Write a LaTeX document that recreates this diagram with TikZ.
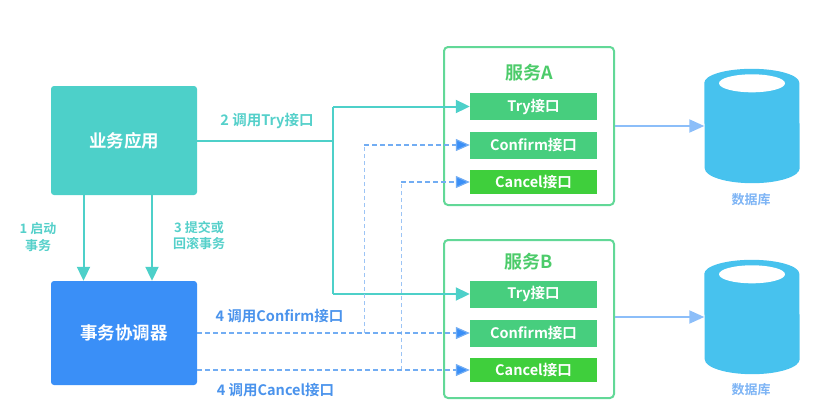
\documentclass[tikz,border=0pt]{standalone}
\usepackage{fontspec}
\setmainfont{Noto Sans CJK SC Bold}
\usetikzlibrary{arrows.meta,calc}
\definecolor{teal1}{HTML}{4DD0C9}
\definecolor{blue1}{HTML}{3A8FF7}
\definecolor{frame1}{HTML}{62D897}
\definecolor{green1}{HTML}{47CE7E}
\definecolor{green2}{HTML}{3FCF3C}
\definecolor{title1}{HTML}{4CCB6A}
\definecolor{db1}{HTML}{47C2EE}
\definecolor{flow1}{HTML}{8CBEF9}
\definecolor{dash1}{HTML}{72ADF3}
\definecolor{dash2}{HTML}{9CC4F5}
\definecolor{lab1}{HTML}{55D0CA}
\definecolor{lab2}{HTML}{4A93EC}
\definecolor{lab3}{HTML}{7DB4F5}
\tikzset{
  px/.style={x=1pt,y=-1pt},
  mainbox/.style={rounded corners=3pt,text=white,font=\fontsize{17.5}{20}\selectfont,minimum width=146pt,inner sep=0pt},
  frame/.style={draw=frame1,line width=2pt,rounded corners=4pt,minimum width=170pt,inner sep=0pt},
  api/.style={text=white,font=\fontsize{14.5}{16}\selectfont,minimum width=127pt,inner sep=0pt},
  ghost/.style={minimum width=95pt,inner sep=0pt},
  tealarrow/.style={draw=teal1,line width=2pt,-{Triangle[length=14pt,width=13pt,fill=teal1]}},
  tealline/.style={draw=teal1,line width=2pt},
  dasharrow/.style={draw=dash1,line width=1.2pt,dash pattern=on 5pt off 3pt,-{Triangle[length=14pt,width=12pt,fill=blue1]}},
  dashv/.style={draw=dash2,line width=1pt,dash pattern=on 4pt off 3pt},
  flow/.style={draw=flow1,line width=2pt,-{Triangle[length=15pt,width=13pt,fill=flow1]}},
  lab/.style={inner sep=0pt,align=center,font=\fontsize{14.5}{17}\selectfont},
  smalllab/.style={inner sep=0pt,align=center,font=\fontsize{13}{16.5}\selectfont},
  dblab/.style={inner sep=0pt,text=lab3,font=\fontsize{13}{15}\selectfont},
  svctitle/.style={inner sep=0pt,text=title1,font=\fontsize{18}{20}\selectfont},
}
\newcommand{\dbshape}[1]{%
  \fill[db1] ($(#1.north west)+(0,14)$) arc[start angle=180,end angle=0,x radius=47.5pt,y radius=14pt]
    -- ($(#1.south east)+(0,-15)$) arc[start angle=0,end angle=-180,x radius=47.5pt,y radius=15pt] -- cycle;
  \fill[white] ($(#1.north)+(0,14.5)$) ellipse[x radius=33pt,y radius=9pt];
}
\begin{document}
\begin{tikzpicture}[px]
\useasboundingbox (0,0) rectangle (830,418);
% boxes
\node[mainbox,fill=teal1,minimum height=109pt] (app) at (124,140.5) {业务应用};
\node[mainbox,fill=blue1,minimum height=104pt] (tc) at (124,333) {事务协调器};
\node[frame,minimum height=158pt] (svcA) at (529,126) {};
\node[frame,minimum height=158pt] (svcB) at (529,319) {};
\node[svctitle] (titleA) at (529,73) {服务A};
\node[svctitle] (titleB) at (529,262) {服务B};
\node[api,fill=green1,minimum height=27pt] (tryA) at (533.5,106.5) {Try接口};
\node[api,fill=green1,minimum height=27pt] (cfmA) at (533.5,145) {Confirm接口};
\node[api,fill=green2,minimum height=24pt] (canA) at (533.5,182) {Cancel接口};
\node[api,fill=green1,minimum height=27pt] (tryB) at (533.5,294) {Try接口};
\node[api,fill=green1,minimum height=27pt] (cfmB) at (533.5,333) {Confirm接口};
\node[api,fill=green2,minimum height=24pt] (canB) at (533.5,370) {Cancel接口};
% databases
\node[ghost,minimum height=114pt] (dbA) at (752,126) {};
\node[ghost,minimum height=114pt] (dbB) at (752,317) {};
\dbshape{dbA}
\dbshape{dbB}
\node[dblab] (dbAl) at (751,200) {数据库};
\node[dblab] (dbBl) at (751,390) {数据库};
% teal connectors
\coordinate (tA) at (333,106.5);
\coordinate (tB) at (333,294);
\coordinate (tM) at (333,140.5);
\draw[tealline] (app.east) -- (tM);
\draw[tealline] (tA) -- (tB);
\draw[tealarrow] (tA) -- (tryA.west);
\draw[tealarrow] (tB) -- (tryB.west);
\draw[tealarrow] ($(app.south)+(-40.5,0)$) -- ($(tc.north)+(-40.5,0)$);
\draw[tealarrow] ($(app.south)+(28,0)$) -- ($(tc.north)+(28,0)$);
% dashed connectors
\coordinate (c1) at (364,145);
\coordinate (c2) at (364,333);
\coordinate (d1) at (401,182);
\coordinate (d2) at (401,370);
\draw[dashv] (c2) -- (c1);
\draw[dashv] (d2) -- (d1);
\draw[dasharrow] (c1) -- (cfmA.west);
\draw[dasharrow] (d1) -- (canA.west);
\draw[dasharrow] (tc.east |- cfmB.west) -- (cfmB.west);
\draw[dasharrow] (tc.east |- canB.west) -- (canB.west);
% data flows
\draw[flow] (svcA.east) -- (dbA.west);
\draw[flow] (svcB.east |- dbB.west) -- (dbB.west);
% labels
\node[lab,text=lab1] (l2) at (267,121) {2 调用Try接口};
\node[smalllab,text=lab1] (l1) at (38,237) {1 启动\\事务};
\node[smalllab,text=lab1] (l3) at (199,235.5) {3 提交或\\回滚事务};
\node[lab,text=lab2] (l4) at (279.5,316) {4 调用Confirm接口};
\node[lab,text=lab2] (l5) at (275.5,390) {4 调用Cancel接口};
\end{tikzpicture}
\end{document}
